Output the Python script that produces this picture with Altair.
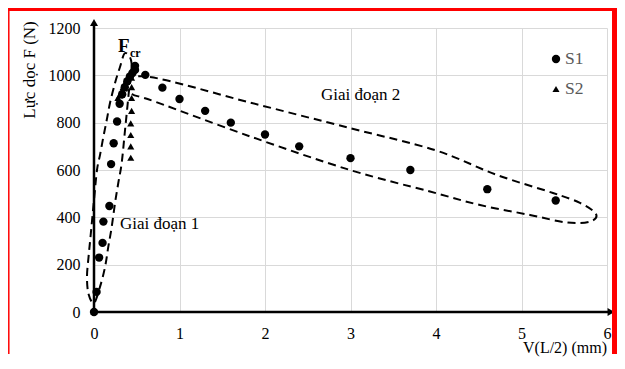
import altair as alt
import pandas as pd

W, H = 513, 284
FONT = "Liberation Serif"

# Series S1 (dots)
s1_x = [0.0, 0.03, 0.06, 0.10, 0.11, 0.18, 0.20, 0.23, 0.27, 0.30, 0.33, 0.36, 0.39, 0.42, 0.45, 0.48, 0.48,
        0.60, 0.80, 1.00, 1.30, 1.60, 2.00, 2.40, 3.00, 3.70, 4.60, 5.40]
s1_y = [0, 85, 230, 292, 382, 448, 625, 713, 805, 880, 920, 950, 975, 995, 1010, 1023, 1040,
        1002, 948, 900, 850, 800, 750, 700, 650, 600, 519, 471]

# Series S2 (triangles)
s2_x = [0.0, 0.28, 0.30, 0.32, 0.34, 0.36, 0.38, 0.40, 0.42, 0.44, 0.45, 0.44, 0.44, 0.44, 0.44, 0.43, 0.43, 0.43, 0.43]
s2_y = [0, 905, 915, 930, 950, 965, 980, 995, 1005, 1015, 1020, 990, 950, 904, 850, 797, 748, 700, 652]

# Dashed outline "Giai doan 1"
ell1_x = [0.363, 0.439, 0.404, 0.363, 0.324, 0.284, 0.246, 0.207, 0.167, 0.129, 0.070, 0.0,
          -0.064, -0.082, -0.064, -0.041, 0.0, 0.035, 0.070, 0.109, 0.149, 0.187, 0.246, 0.304]
ell1_y = [1094, 1052, 917, 769, 630, 545, 461, 359, 275, 190, 106, 38,
          76, 148, 232, 317, 473, 600, 663, 739, 811, 883, 968, 1035]

# Dashed outline "Giai doan 2"
ell2_x = [0.351, 0.655, 1.825, 2.994, 3.988, 4.713, 5.368, 5.684, 5.871,
          5.801, 5.532, 5.099, 4.515, 3.930, 2.994, 1.825, 0.713, 0.444]
ell2_y = [963, 993, 885, 777, 684, 579, 503, 461, 414,
          382, 378, 410, 452, 509, 600, 742, 889, 921]

x_ticks = [0, 1, 2, 3, 4, 5, 6]
y_ticks = [0, 200, 400, 600, 800, 1000, 1200]

ann_text = ["Giai đoạn 1", "Giai đoạn 2"]
ann_x = [0.304, 2.655]
ann_y = [372, 917]

legend_names = ["S1", "S2"]

xs = alt.Scale(domain=[0, 6], nice=False, zero=False)
ys = alt.Scale(domain=[0, 1200], nice=False)

X = alt.X("x:Q", scale=xs, axis=alt.Axis(values=x_ticks, title="", domain=False, ticks=False, tickSize=0,
                                         labelPadding=13, grid=True, gridColor="#d9d9d9", gridWidth=1,
                                         labelFont=FONT, labelFontSize=16, labelColor="black",
                                         labelFlush=False, format="d"))
Y = alt.Y("y:Q", scale=ys, axis=alt.Axis(values=y_ticks, title="", domain=False, ticks=False, tickSize=0,
                                         labelPadding=14, grid=True, gridColor="#d9d9d9", gridWidth=1,
                                         labelFont=FONT, labelFontSize=16, labelColor="black", format="d"))

df1 = pd.DataFrame({"x": s1_x, "y": s1_y})
df2 = pd.DataFrame({"x": s2_x, "y": s2_y})
e1 = pd.DataFrame({"x": ell1_x, "y": ell1_y, "i": list(range(len(ell1_x)))})
e2 = pd.DataFrame({"x": ell2_x, "y": ell2_y, "i": list(range(len(ell2_x)))})
ann = pd.DataFrame({"x": ann_x, "y": ann_y, "t": ann_text})
fcr_F = pd.DataFrame({"x": [0.281], "y": [1100], "t": ["F"]})
fcr_cr = pd.DataFrame({"x": [0.421], "y": [1076], "t": ["cr"]})
one = pd.DataFrame({"k": [0]})

outline1 = alt.Chart(e1).mark_line(interpolate="cardinal-closed", strokeDash=[8, 5], strokeWidth=2,
                                   color="black").encode(x=X, y=Y, order=alt.Order("i:Q"))
outline2 = alt.Chart(e2).mark_line(interpolate="cardinal-closed", strokeDash=[8, 5], strokeWidth=2,
                                   color="black").encode(x=X, y=Y, order=alt.Order("i:Q"))

yaxis_line = alt.Chart(one).mark_rule(color="black", strokeWidth=2.5).encode(
    x=alt.value(0), y=alt.value(H), y2=alt.value(-4))
xaxis_line = alt.Chart(one).mark_rule(color="black", strokeWidth=2.5).encode(
    x=alt.value(0), x2=alt.value(517), y=alt.value(H))
yarrow = alt.Chart(one).mark_point(shape="triangle-up", filled=True, size=64, color="black", opacity=1).encode(
    x=alt.value(0), y=alt.value(-5.5))
xarrow = alt.Chart(one).mark_point(shape="triangle-right", filled=True, size=64, color="black", opacity=1).encode(
    x=alt.value(517), y=alt.value(H))

pts1 = alt.Chart(df1).mark_point(shape="circle", filled=True, size=70, color="black", opacity=1).encode(x=X, y=Y)
pts2 = alt.Chart(df2).mark_point(shape="triangle-up", filled=True, size=50, color="black", opacity=1).encode(x=X, y=Y)

ann_layer = alt.Chart(ann).mark_text(font=FONT, fontSize=17, align="left", baseline="middle", color="black").encode(
    x=X, y=Y, text="t:N")
f_layer = alt.Chart(fcr_F).mark_text(font=FONT, fontSize=19, fontWeight="bold", align="left",
                                     baseline="alphabetic", color="black").encode(x=X, y=Y, text="t:N")
cr_layer = alt.Chart(fcr_cr).mark_text(font=FONT, fontSize=12, fontWeight="bold", align="left",
                                       baseline="alphabetic", color="black").encode(x=X, y=Y, text="t:N")

# Legend (inside plot, top right)
leg_dot = alt.Chart(one).mark_point(shape="circle", filled=True, size=70, color="black", opacity=1).encode(
    x=alt.value(462), y=alt.value(31))
leg_tri = alt.Chart(one).mark_point(shape="triangle-up", filled=True, size=50, color="black", opacity=1).encode(
    x=alt.value(462), y=alt.value(61))
leg_t1 = alt.Chart(one).mark_text(font=FONT, fontSize=17.5, align="left", baseline="middle", color="#595959",
                                  text=legend_names[0]).encode(x=alt.value(471), y=alt.value(31))
leg_t2 = alt.Chart(one).mark_text(font=FONT, fontSize=17.5, align="left", baseline="middle", color="#595959",
                                  text=legend_names[1]).encode(x=alt.value(471), y=alt.value(61))

# Axis titles
ytitle = alt.Chart(one).mark_text(font=FONT, fontSize=17, angle=270, align="center", baseline="middle",
                                  color="black", text="Lực dọc F (N)").encode(x=alt.value(-64), y=alt.value(42))
xtitle = alt.Chart(one).mark_text(font=FONT, fontSize=16, align="right", baseline="alphabetic",
                                  color="black", text="V(L/2) (mm)").encode(x=alt.value(W), y=alt.value(325))

# Red frame of the figure
red_top = alt.Chart(one).mark_rule(color="#ff0000", strokeWidth=3).encode(
    x=alt.value(-86), x2=alt.value(523), y=alt.value(-18.5))
red_right = alt.Chart(one).mark_rule(color="#ff0000", strokeWidth=5).encode(
    x=alt.value(520.5), y=alt.value(-20), y2=alt.value(326))
red_left = alt.Chart(one).mark_rule(color="#ff0000", strokeWidth=1.5).encode(
    x=alt.value(-85.2), y=alt.value(-20), y2=alt.value(326))

chart = alt.layer(
    outline1, outline2, yaxis_line, xaxis_line, yarrow, xarrow, pts1, pts2,
    ann_layer, f_layer, cr_layer, leg_dot, leg_tri, leg_t1, leg_t2, ytitle, xtitle,
    red_top, red_right, red_left
).properties(
    width=W, height=H,
    autosize=alt.AutoSizeParams(type="none"),
    padding={"left": 86, "top": 20, "right": 10, "bottom": 45},
).configure_view(stroke="transparent")

chart.save("out.html", embed_options={"renderer": "svg", "actions": False})
